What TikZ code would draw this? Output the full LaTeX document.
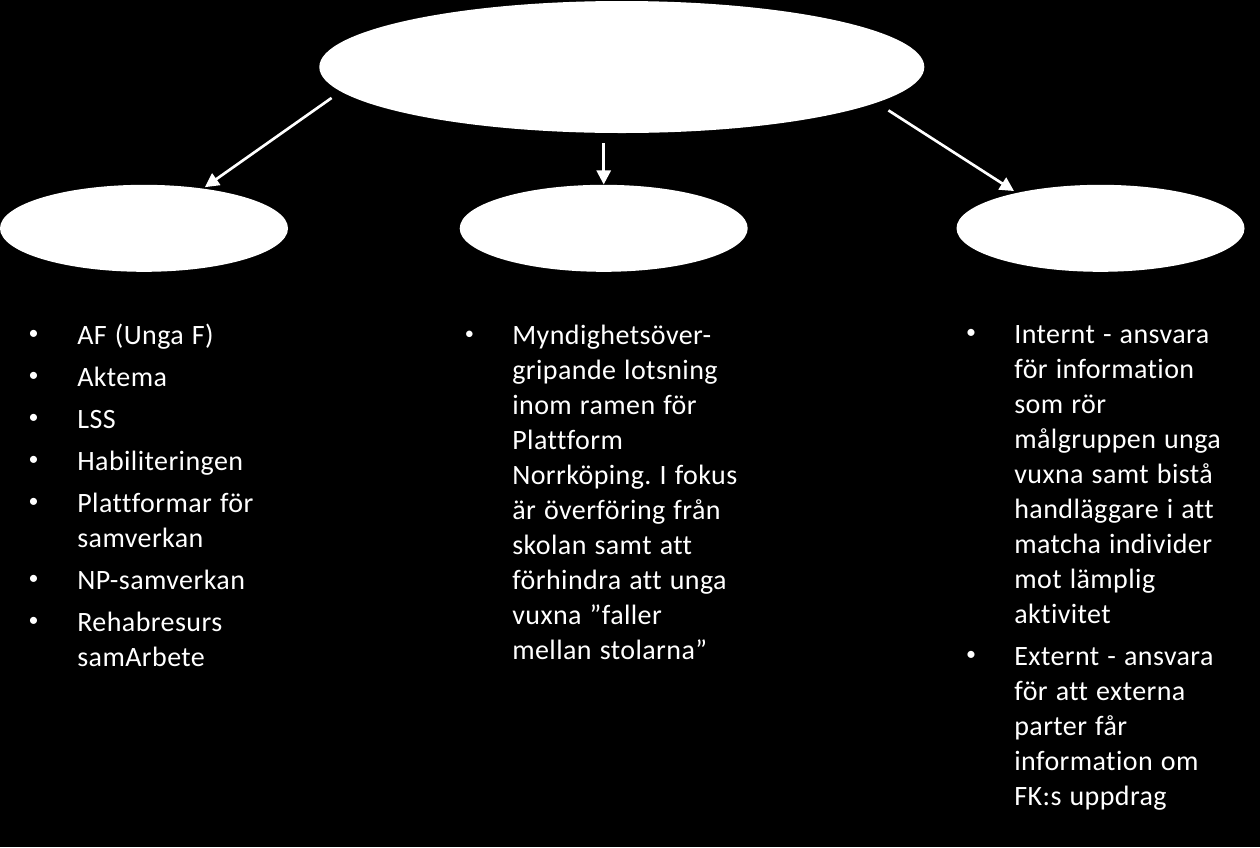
\documentclass[tikz,border=0pt]{standalone}
\usepackage{fontspec}
\setmainfont{Carlito}[Ligatures=NoCommon, LetterSpace=1.5, WordSpace=1.2]
\usetikzlibrary{shapes.geometric, arrows.meta}
\frenchspacing

\begin{document}
\begin{tikzpicture}[x=0.6pt, y=-0.6pt,
  hub/.style={ellipse, fill=white, inner sep=0pt, minimum width=363pt, minimum height=79.2pt},
  sub/.style={ellipse, fill=white, inner sep=0pt, minimum width=172.8pt, minimum height=52.2pt},
  arr/.style={white, line width=1.6pt, -{Triangle[length=8.4pt,width=8.4pt]}},
  bul/.style={anchor=base, inner sep=0pt, text=white, font=\fontsize{12}{14}\selectfont},
  item/.style={anchor=base west, inner sep=0pt, text=white, text width=150pt, align=flush left,
    font=\fontsize{16.8}{21}\selectfont}]
\useasboundingbox (0,0) rectangle (1260,847);
\fill[black] (0,0) rectangle (1260,847);

% Ellipses
\node[hub] (E0) at (621.8,67) {};
\foreach \i/\cx in {1/144,2/603.7,3/1100.5}{
  \node[sub] (E\i) at (\cx,228.3) {};
}

% Arrows
\draw[arr, shorten <=6.6pt, shorten >=1.2pt] (E0.185) -- (E1.34);
\draw[arr, shorten <=6pt] (E0.south -| E2.north) -- (E2.north);
\draw[arr, shorten <=8.4pt, shorten >=1.8pt] (E0.352) -- (E3.157);

% Bullet lists
\foreach \bx/\bs/\tx/\y/\txt [count=\i] in {
  33.5/12/77/344/{AF (Unga F)},
  33.5/12/77/386/{Aktema},
  33.5/12/77/428/{LSS},
  33.5/12/77/470/{Habiliteringen},
  33.5/12/77/512/{Plattformar för\\samverkan},
  33.5/12/77/589/{NP-samverkan},
  33.5/12/77/631/{Rehabresurs\\samArbete},
  469.5/11/512/344/{Myndighetsöver-\\gripande lotsning\\inom ramen för\\Plattform\\Norrköping. I fokus\\är överföring från\\skolan samt att\\förhindra att unga\\vuxna ”faller\\mellan stolarna”},
  971/12/1014/343/{Internt - ansvara\\för information\\som rör\\målgruppen unga\\vuxna samt bistå\\handläggare i att\\matcha individer\\mot lämplig\\aktivitet},
  971/12/1014/665/{Externt - ansvara\\för att externa\\parter får\\information om\\FK:s uppdrag}}{
  \node[bul, font=\fontsize{\bs}{14}\selectfont] (B\i) at (\bx,\y) {\raisebox{2.6pt}{\textbullet}};
  \node[item] (T\i) at (\tx,\y) {\txt};
}
\end{tikzpicture}
\end{document}
